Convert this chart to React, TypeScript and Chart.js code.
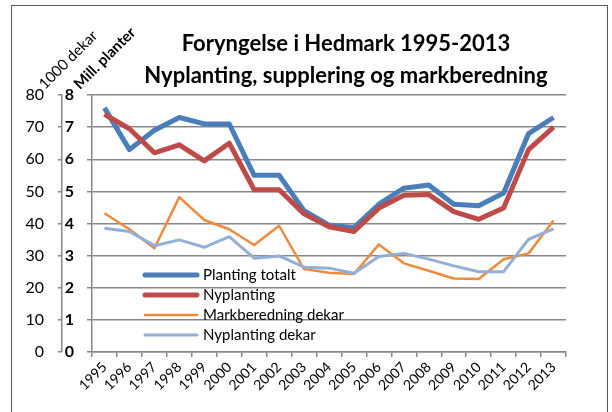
import React, { useEffect, useRef } from "react";
import { Chart, registerables } from "chart.js";

Chart.register(...registerables);

const years = ["1995", "1996", "1997", "1998", "1999", "2000", "2001", "2002", "2003", "2004", "2005", "2006", "2007", "2008", "2009", "2010", "2011", "2012", "2013"];

// Mill. planter (0-8)
const plantingTotalt = [7.6, 6.3, 6.9, 7.3, 7.1, 7.1, 5.5, 5.5, 4.4, 3.95, 3.87, 4.6, 5.1, 5.2, 4.6, 4.55, 4.95, 6.8, 7.3];
const nyplanting = [7.4, 6.95, 6.2, 6.45, 5.95, 6.5, 5.05, 5.05, 4.3, 3.9, 3.75, 4.48, 4.88, 4.9, 4.37, 4.13, 4.48, 6.3, 7.0];
// 1000 dekar (0-80)
const markberedningDekar = [43.2, 38.2, 32.3, 48.2, 41.1, 38.2, 33.3, 39.3, 25.8, 24.7, 24.3, 33.5, 27.6, 25.3, 22.9, 22.7, 28.9, 30.7, 40.9];
const nyplantingDekar = [38.5, 37.5, 33.1, 34.9, 32.6, 35.9, 29.2, 29.9, 26.4, 26.1, 24.5, 29.7, 30.7, 28.9, 26.8, 25.0, 25.0, 35.1, 38.3];

const seriesNames = ["Planting totalt", "Nyplanting", "Markberedning dekar", "Nyplanting dekar"];
const titleLines = ["Foryngelse i Hedmark 1995-2013", "Nyplanting, supplering og markberedning"];
const outerAxisTitle = "1000 dekar";
const innerAxisTitle = "Mill. planter";

const FONT = "Lato";
const GRID = "#878787";

const decorPlugin = {
  id: "decor",
  beforeDraw(chart: any) {
    const ctx = chart.ctx;
    ctx.save();
    ctx.fillStyle = "#ffffff";
    ctx.fillRect(0, 0, chart.width, chart.height);
    ctx.strokeStyle = "#5a5a5a";
    ctx.lineWidth = 1;
    ctx.strokeRect(11.5, 5.5, 596, 430);
    ctx.restore();
  },
  afterDraw(chart: any) {
    const ctx = chart.ctx;
    const area = chart.chartArea;
    ctx.save();
    ctx.fillStyle = "#000";
    ctx.font = `bold 22px ${FONT}`;
    ctx.textAlign = "center";
    ctx.textBaseline = "alphabetic";
    ctx.fillText(titleLines[0], 346, 51);
    ctx.fillText(titleLines[1], 346, 83);

    ctx.textAlign = "left";
    ctx.save();
    ctx.translate(45, 90);
    ctx.rotate(-Math.PI / 4);
    ctx.font = `15px ${FONT}`;
    ctx.fillText(outerAxisTitle, 0, 0);
    ctx.restore();
    ctx.save();
    ctx.translate(80, 90);
    ctx.rotate(-Math.PI / 4);
    ctx.font = `bold 15px ${FONT}`;
    ctx.fillText(innerAxisTitle, 0, 0);
    ctx.restore();

    const ds = chart.data.datasets;
    const x0 = area.left + 53;
    const x1 = area.left + 105;
    const tx = area.left + 111;
    ds.forEach((d: any, i: number) => {
      const y = area.bottom - 77 + i * 20;
      ctx.strokeStyle = d.borderColor;
      ctx.lineWidth = d.borderWidth;
      ctx.lineCap = "round";
      ctx.beginPath();
      ctx.moveTo(x0, y);
      ctx.lineTo(x1, y);
      ctx.stroke();
      ctx.fillStyle = "#000";
      ctx.font = `15px ${FONT}`;
      ctx.textBaseline = "middle";
      ctx.fillText(d.label, tx, y);
    });
    ctx.restore();
  },
};

export default function App() {
  const ref = useRef<HTMLCanvasElement | null>(null);

  useEffect(() => {
    if (!ref.current) return;
    Chart.defaults.font.family = FONT;
    Chart.defaults.color = "#000";
    const chart = new Chart(ref.current, {
      type: "line",
      data: {
        labels: years,
        datasets: [
          { label: seriesNames[0], data: plantingTotalt, yAxisID: "yInner", borderColor: "#4a7ebb", borderWidth: 5, order: 4 },
          { label: seriesNames[1], data: nyplanting, yAxisID: "yInner", borderColor: "#be4b48", borderWidth: 5, order: 3 },
          { label: seriesNames[2], data: markberedningDekar, yAxisID: "yOuter", borderColor: "#f08a3a", borderWidth: 2.5, order: 2 },
          { label: seriesNames[3], data: nyplantingDekar, yAxisID: "yOuter", borderColor: "#93afd8", borderWidth: 3, order: 1 },
        ],
      },
      options: {
        animation: false,
        responsive: false,
        devicePixelRatio: 1,
        layout: { padding: { left: 12, top: 95, right: 46, bottom: 0 } },
        elements: {
          point: { radius: 0 },
          line: { tension: 0, borderJoinStyle: "round", borderCapStyle: "butt" },
        },
        plugins: {
          legend: { display: false },
          title: { display: false },
          tooltip: { enabled: false },
        },
        scales: {
          x: {
            type: "category",
            offset: true,
            grid: { offset: true, drawOnChartArea: false, drawTicks: true, tickLength: 5, color: GRID, lineWidth: 1.5 },
            border: { display: true, color: GRID, width: 1.5 },
            ticks: { minRotation: 45, maxRotation: 45, autoSkip: false, padding: 2, font: { size: 14, family: FONT }, color: "#000" },
            afterFit: (s: any) => { s.height = 60; },
          },
          yOuter: {
            type: "linear",
            position: "left",
            weight: 1,
            min: 0,
            max: 80,
            grid: { drawOnChartArea: false, drawTicks: true, tickLength: 4, color: GRID, lineWidth: 1.5 },
            border: { display: true, color: GRID, width: 1.5 },
            ticks: { stepSize: 10, padding: 14, font: { size: 16, family: FONT }, color: "#000" },
            afterFit: (s: any) => { s.width = 50; },
          },
          yInner: {
            type: "linear",
            position: "left",
            weight: 0,
            min: 0,
            max: 8,
            grid: { drawOnChartArea: true, drawTicks: true, tickLength: 5, color: GRID, lineWidth: 1.5 },
            border: { display: true, color: GRID, width: 1.5 },
            ticks: { stepSize: 1, padding: 13, font: { size: 16, family: FONT, weight: "bold" }, color: "#000" },
            afterFit: (s: any) => { s.width = 30; },
          },
        },
      },
      plugins: [decorPlugin],
    } as any);
    return () => chart.destroy();
  }, []);

  return (
    <div style={{ position: "fixed", left: 0, top: 0, width: 612, height: 412, background: "#fff" }}>
      <canvas ref={ref} width={612} height={412} style={{ display: "block" }} />
    </div>
  );
}
